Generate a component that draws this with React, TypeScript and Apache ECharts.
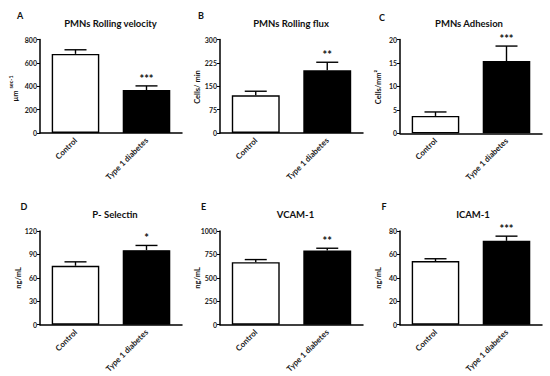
import React, { useEffect, useRef } from "react";
import * as echarts from "echarts";

const categories = ["Control", "Type 1 diabetes"];

const rollingVelocity = [677, 368];
const rollingVelocityErr = [35, 35];
const rollingFlux = [121, 201];
const rollingFluxErr = [13, 26];
const adhesion = [3.7, 15.4];
const adhesionErr = [0.85, 3.2];
const pSelectin = [75.5, 95.5];
const pSelectinErr = [5, 6];
const vcam = [667, 792];
const vcamErr = [28, 24];
const icam = [54.3, 71.6];
const icamErr = [2, 4];

const panelTitles = ["PMNs Rolling velocity", "PMNs Rolling flux", "PMNs Adhesion", "P- Selectin", "VCAM-1", "ICAM-1"];
const panelLetters = ["A", "B", "C", "D", "E", "F"];
const stars = ["***", "**", "***", "*", "**", "***"];
const yMax = [800, 300, 20, 120, 1000, 80];
const yStep = [200, 75, 5, 30, 250, 20];

const means = [rollingVelocity, rollingFlux, adhesion, pSelectin, vcam, icam];
const errs = [rollingVelocityErr, rollingFluxErr, adhesionErr, pSelectinErr, vcamErr, icamErr];

const FONT = "Lato";

const grids = [
  { left: 40, top: 39.5, width: 142, height: 93.5 },
  { left: 220, top: 39.5, width: 143, height: 93.5 },
  { left: 400, top: 39.5, width: 142, height: 93.8 },
  { left: 40, top: 231, width: 142, height: 93.7 },
  { left: 220, top: 231, width: 143, height: 93.7 },
  { left: 400, top: 231, width: 142, height: 93.7 },
];

const titlePos = [
  [110.5, 23], [291, 23], [469, 23], [115, 214], [295.5, 214], [473, 214],
];
const letterPos = [
  [20, 15.5], [201, 15], [382, 17], [24, 206], [203.5, 206], [384, 206],
];

export default function App() {
  const ref = useRef<HTMLDivElement>(null);
  useEffect(() => {
    if (!ref.current) return;
    const chart = echarts.init(ref.current, null, { renderer: "svg" });

    const xAxis: any[] = [];
    const yAxis: any[] = [];
    const series: any[] = [];
    const graphic: any[] = [];

    for (let i = 0; i < 6; i++) {
      xAxis.push({
        type: "category",
        gridIndex: i,
        data: categories,
        axisLine: { lineStyle: { color: "#000", width: 1.5 } },
        axisTick: { show: false },
        axisLabel: {
          rotate: 45,
          interval: 0,
          margin: 6,
          fontSize: 8,
          fontWeight: "bold",
          fontFamily: FONT,
          color: "#222",
        },
      });
      yAxis.push({
        type: "value",
        gridIndex: i,
        min: 0,
        max: yMax[i],
        interval: yStep[i],
        splitLine: { show: false },
        axisLine: { show: true, lineStyle: { color: "#000", width: 1.5 } },
        axisTick: { show: true, length: 3, lineStyle: { color: "#000", width: 1 } },
        axisLabel: {
          fontSize: 7,
          fontWeight: "bold",
          fontFamily: FONT,
          color: "#222",
          margin: 3,
          formatter: (v: number) => String(v),
        },
      });
      series.push({
        type: "bar",
        xAxisIndex: i,
        yAxisIndex: i,
        barWidth: "67%",
        data: means[i].map((v, j) => ({
          value: v,
          itemStyle: { color: j === 0 ? "#fff" : "#000", borderColor: "#000", borderWidth: 1.4 },
        })),
      });
      const star = stars[i];
      series.push({
        type: "custom",
        xAxisIndex: i,
        yAxisIndex: i,
        clip: false,
        data: means[i].map((v, j) => [j, v, v + errs[i][j]]),
        z: 1,
        renderItem: (params: any, api: any) => {
          const x = api.value(0);
          const p0 = api.coord([x, api.value(1)]);
          const p1 = api.coord([x, api.value(2)]);
          const children: any[] = [
            { type: "line", shape: { x1: p0[0], y1: p0[1], x2: p1[0], y2: p1[1] }, style: { stroke: "#000", lineWidth: 1.4 } },
            { type: "line", shape: { x1: p1[0] - 11, y1: p1[1], x2: p1[0] + 11, y2: p1[1] }, style: { stroke: "#000", lineWidth: 1.4 } },
          ];
          if (params.dataIndex === 1) {
            children.push({
              type: "text",
              x: p1[0],
              y: p1[1] - 2,
              style: {
                text: star,
                fontSize: 11,
                fontWeight: "bold",
                fontFamily: FONT,
                fill: "#111",
                align: "center",
                verticalAlign: "bottom",
              },
            });
          }
          return { type: "group", children };
        },
      });

      graphic.push({
        type: "text",
        x: titlePos[i][0],
        y: titlePos[i][1],
        style: {
          text: panelTitles[i],
          fontSize: 9.5,
          fontWeight: "bold",
          fontFamily: FONT,
          fill: "#111",
          align: "center",
          verticalAlign: "middle",
        },
      });
      graphic.push({
        type: "text",
        x: letterPos[i][0],
        y: letterPos[i][1],
        style: {
          text: panelLetters[i],
          fontSize: 9,
          fontWeight: "bold",
          fontFamily: FONT,
          fill: "#111",
          align: "center",
          verticalAlign: "middle",
        },
      });
    }

    const yName = (text: string, x: number, y: number, size = 7.5) => ({
      type: "text",
      x,
      y,
      rotation: Math.PI / 2,
      style: {
        text,
        fontSize: size,
        fontWeight: "bold",
        fontFamily: FONT,
        fill: "#111",
        align: "center",
        verticalAlign: "middle",
      },
    });
    graphic.push(yName("μm", 15.5, 96));
    graphic.push(yName("sec-1", 11, 82, 5.5));
    graphic.push(yName("Cells/ min", 197, 87));
    graphic.push(yName("Cells/mm²", 378.5, 87));
    graphic.push(yName("ng/mL", 18, 278));
    graphic.push(yName("ng/mL", 197.5, 278));
    graphic.push(yName("ng/mL", 378, 278));

    chart.setOption({
      animation: false,
      backgroundColor: "#fff",
      grid: grids,
      xAxis,
      yAxis,
      series,
      graphic,
    });

    return () => chart.dispose();
  }, []);
  return <div ref={ref} style={{ width: 550, height: 376, position: "fixed", left: 0, top: 0 }} />;
}
